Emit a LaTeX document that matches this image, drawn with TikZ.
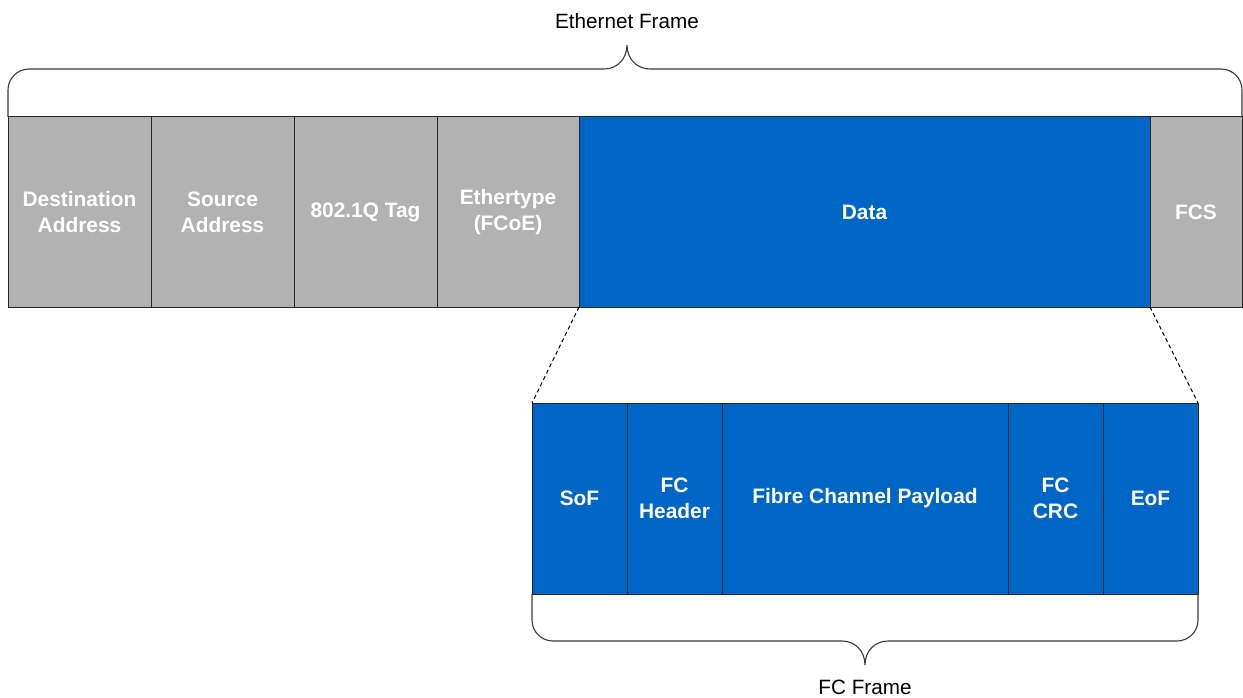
\documentclass[tikz,border=0pt]{standalone}
\usepackage{fontspec}
\setmainfont{Liberation Sans}
\definecolor{cellgray}{HTML}{B2B2B2}
\definecolor{cellblue}{HTML}{0066C5}
\definecolor{edgecol}{HTML}{262626}
\definecolor{bracecol}{HTML}{3A3A3A}
\begin{document}
\begin{tikzpicture}[x=1pt,y=-1pt,
  cellbase/.style={draw=edgecol, line width=1pt, inner sep=0pt, outer sep=0pt,
    text=white, font=\bfseries\fontsize{20.9}{26}\selectfont, align=center,
    anchor=north west},
  gcell/.style={cellbase, fill=cellgray, minimum height=190pt},
  bcell/.style={cellbase, fill=cellblue, minimum height=191pt},
  bracepath/.style={draw=bracecol, line width=1.1pt},
  zoomline/.style={draw=black, line width=1pt, dash pattern=on 4pt off 3pt},
  lbl/.style={font=\fontsize{20.7}{26}\selectfont, text=black, inner sep=0pt}]
\useasboundingbox (0,0) rectangle (1243,698);

% Ethernet frame row
\node[gcell, minimum width=143pt] (dst) at (8,117) {Destination\\Address};
\node[gcell, minimum width=143pt] (src) at (151,117) {Source\\Address};
\node[gcell, minimum width=143pt] (tag) at (294,117) {802.1Q Tag};
\node[gcell, minimum width=142pt] (eth) at (437,117) {Ethertype\\(FCoE)};
\node[bcell, minimum height=190pt, minimum width=571pt] (data) at (579,117) {Data};
\node[gcell, minimum width=92pt] (fcs) at (1150,117) {FCS};

% FC frame row
\node[bcell, minimum width=95pt] (sof) at (532,403) {SoF};
\node[bcell, minimum width=95pt] (hdr) at (627,403) {FC\\Header};
\node[bcell, minimum width=286pt] (pay) at (722,403) {Fibre Channel Payload};
\node[bcell, minimum width=95pt] (crc) at (1008,403) {FC\\CRC};
\node[bcell, minimum width=95pt] (eof) at (1103,403) {EoF};

% zoom lines
\draw[zoomline] (data.south west) -- (sof.north west);
\draw[zoomline] (data.south east) -- (eof.north east);

% top brace
\coordinate (ethtip) at (627,45);
\draw[bracepath] (dst.north west) -- (8,90) .. controls (8,78.4) and (17.4,69) .. (29,69)
  -- (604,69) .. controls (617,69) and (627,59) .. (ethtip)
  .. controls (627,59) and (637,69) .. (650,69)
  -- (1221,69) .. controls (1232.6,69) and (1242,78.4) .. (1242,90) -- (fcs.north east);
\node[lbl] (ethlbl) at (627,21) {Ethernet Frame};

% bottom brace
\coordinate (fctip) at (865,665);
\draw[bracepath] (sof.south west) -- (532,620) .. controls (532,631.6) and (541.4,641) .. (553,641)
  -- (842,641) .. controls (855,641) and (865,651) .. (fctip)
  .. controls (865,651) and (875,641) .. (888,641)
  -- (1177,641) .. controls (1188.6,641) and (1198,631.6) .. (1198,620) -- (eof.south east);
\node[lbl] (fclbl) at (865,687) {FC Frame};
\end{tikzpicture}
\end{document}
